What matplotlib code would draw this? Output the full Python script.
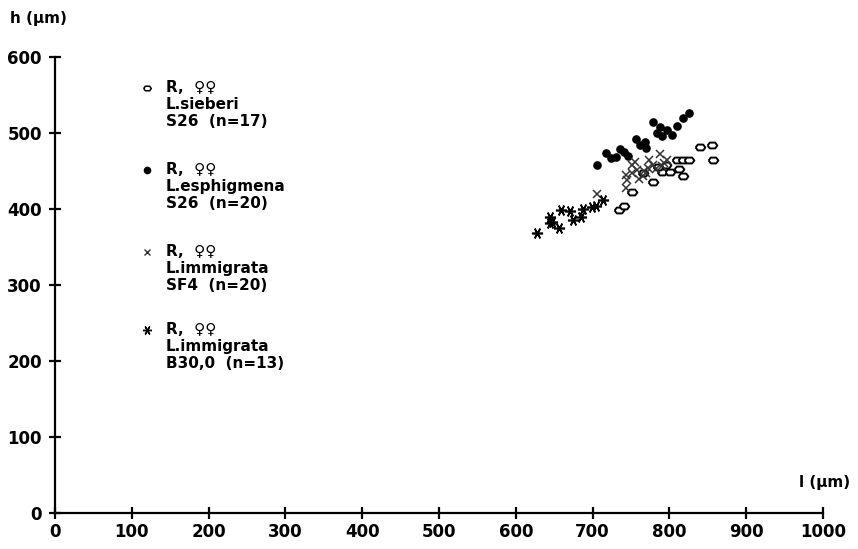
import matplotlib
matplotlib.use("Agg")
import matplotlib.pyplot as plt

# L. sieberi S26 (open circles)
sieberi_x = [734, 741, 751, 779, 790, 801, 812, 818, 810, 818, 826, 840, 855, 857, 795, 765, 785]
sieberi_y = [399, 404, 422, 435, 449, 449, 452, 443, 464, 464, 464, 481, 484, 464, 458, 447, 455]
# L. esphigmena S26 (filled)
esph_x = [706, 718, 724, 731, 736, 741, 746, 757, 762, 770, 768, 778, 784, 788, 791, 797, 803, 810, 818, 825]
esph_y = [458, 474, 467, 468, 479, 475, 470, 492, 484, 480, 488, 514, 500, 508, 496, 504, 497, 509, 520, 526]
# L. immigrata SF4 (crosses)
immSF4_x = [706, 744, 744, 751, 751, 758, 765, 772, 774, 779, 788, 790, 797, 760, 767, 783, 745, 755, 770, 793]
immSF4_y = [420, 427, 445, 447, 458, 451, 443, 454, 464, 458, 472, 456, 465, 440, 450, 452, 438, 462, 447, 460]
# L. immigrata B30,0 (asterisks)
immB30_x = [628, 645, 647, 656, 659, 671, 675, 685, 688, 699, 705, 714, 644]
immB30_y = [369, 390, 383, 375, 399, 398, 386, 390, 400, 402, 404, 412, 381]

xticks = [0, 100, 200, 300, 400, 500, 600, 700, 800, 900, 1000]
yticks = [0, 100, 200, 300, 400, 500, 600]

legend_lines = [
    ["R,  ♀♀", "L.sieberi", "S26  (n=17)"],
    ["R,  ♀♀", "L.esphigmena", "S26  (n=20)"],
    ["R,  ♀♀", "L.immigrata", "SF4  (n=20)"],
    ["R,  ♀♀", "L.immigrata", "B30,0  (n=13)"],
]

W, H = 858, 549
fig = plt.figure(figsize=(W / 100, H / 100), dpi=100)
L, R, B, T = 55, 823, 513, 57
ax = fig.add_axes([L / W, (H - B) / H, (R - L) / W, (B - T) / H])
ax.set_xlim(0, 1000)
ax.set_ylim(0, 600)
for s in ["top", "right"]:
    ax.spines[s].set_visible(False)
for s in ["left", "bottom"]:
    ax.spines[s].set_linewidth(1.6)
ax.set_xticks(xticks)
ax.set_yticks(yticks)
ax.tick_params(direction="inout", length=9, width=1.6, labelsize=12)
ax.tick_params(axis="y", pad=5)
ax.tick_params(axis="x", pad=3)
for lab in ax.get_xticklabels() + ax.get_yticklabels():
    lab.set_fontweight("bold")

oval = [(-1, 0), (-0.55, 0.6), (0.55, 0.6), (1, 0), (0.55, -0.6), (-0.55, -0.6), (-1, 0)]

ms_kw = dict(linestyle="none", clip_on=False)
ax.plot(sieberi_x, sieberi_y, marker=oval, markersize=7, markerfacecolor="white",
        markeredgecolor="black", markeredgewidth=1.4, **ms_kw)
ax.plot(esph_x, esph_y, marker="o", markersize=5.2, color="black", **ms_kw)
ax.plot(immSF4_x, immSF4_y, marker="x", markersize=6, color="#333333", markeredgewidth=1.1, **ms_kw)
ax.plot(immB30_x, immB30_y, marker=(6, 2, 90), markersize=8, color="black", markeredgewidth=1.2, **ms_kw)

# legend
markers = [
    dict(marker=oval, markersize=5.5, markerfacecolor="white", markeredgecolor="black", markeredgewidth=1.1),
    dict(marker="o", markersize=4.5, color="black"),
    dict(marker="x", markersize=5, color="#333333", markeredgewidth=1.0),
    dict(marker=(6, 2, 90), markersize=6.5, color="black", markeredgewidth=1.0),
]
tops = [88, 170, 252, 330]
for mk, top, lines in zip(markers, tops, legend_lines):
    fig.add_artist(plt.Line2D([147 / W], [(H - top) / H], transform=fig.transFigure, **mk))
    for i, line in enumerate(lines):
        fig.text(166 / W, (H - (top + i * 16.5)) / H, line, fontsize=11, fontweight="bold",
                 ha="left", va="center")

fig.text(10 / W, (H - 18) / H, "h (μm)", fontsize=11, fontweight="bold", ha="left", va="center")
fig.text(850 / W, (H - 482) / H, "l (μm)", fontsize=11, fontweight="bold", ha="right", va="center")

fig.savefig("out.png", dpi=100)
